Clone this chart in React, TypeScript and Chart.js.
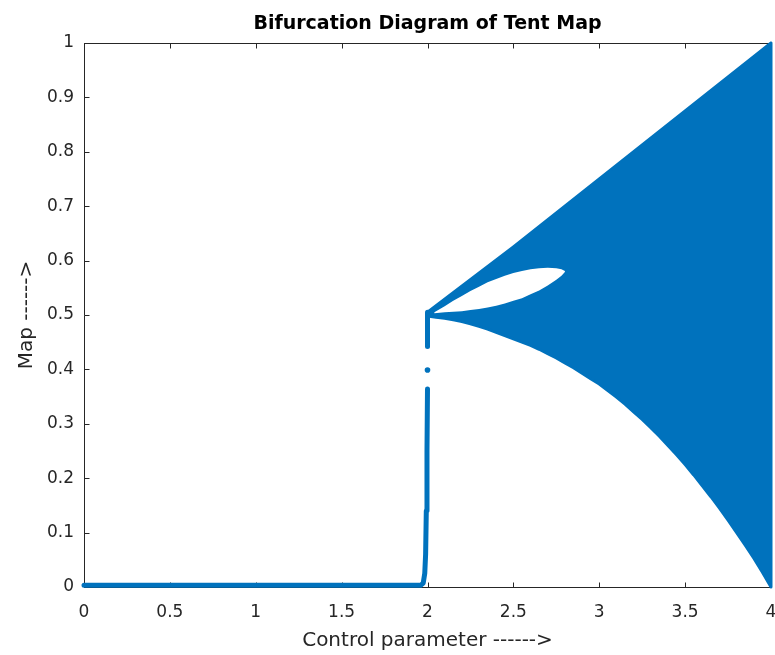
import React, { useEffect, useRef } from 'react';
import { Chart, registerables } from 'chart.js';

Chart.register(...registerables);

const BLUE = '#0072BD';
const AXIS = '#262626';
const FONT = "'DejaVu Sans', 'Liberation Sans', sans-serif";

// Tick values / labels
const xTickValues = [0, 0.5, 1, 1.5, 2, 2.5, 3, 3.5, 4];
const xTickLabels = ['0', '0.5', '1', '1.5', '2', '2.5', '3', '3.5', '4'];
const yTickValues = [0, 0.1, 0.2, 0.3, 0.4, 0.5, 0.6, 0.7, 0.8, 0.9, 1];
const yTickLabels = ['0', '0.1', '0.2', '0.3', '0.4', '0.5', '0.6', '0.7', '0.8', '0.9', '1'];

// Fixed-point branch (control parameter below 2)
const branchX = [0, 1.5, 1.96, 1.975, 1.984, 1.989, 1.993, 1.997, 2.0];
const branchY = [0.003, 0.003, 0.003, 0.007, 0.025, 0.06, 0.14, 0.25, 0.364];
const stubX = [2.0, 2.0];
const stubY = [0.442, 0.505];
const dotX = [2.0];
const dotY = [0.399];

// Chaotic band boundaries (control parameter 2..4)
const upperX = [2.0, 2.5, 3.0, 3.5, 4.0];
const upperY = [0.505, 0.625, 0.75, 0.875, 1.0];
const lowerX = [
  2.0, 2.05, 2.1, 2.15, 2.2, 2.25, 2.3, 2.35, 2.4, 2.45, 2.5, 2.55, 2.6, 2.65, 2.7, 2.75, 2.8, 2.85, 2.9, 2.95,
  3.0, 3.05, 3.1, 3.15, 3.2, 3.25, 3.3, 3.35, 3.4, 3.45, 3.5, 3.55, 3.6, 3.65, 3.7, 3.75, 3.8, 3.85, 3.9, 3.95, 4.0,
];
const lowerY = [
  0.498, 0.496, 0.494, 0.491, 0.488, 0.484, 0.479, 0.474, 0.468, 0.462, 0.456, 0.45, 0.444, 0.437, 0.429, 0.421,
  0.412, 0.403, 0.393, 0.383, 0.373, 0.361, 0.349, 0.336, 0.322, 0.308, 0.293, 0.277, 0.26, 0.243, 0.225, 0.206,
  0.186, 0.166, 0.145, 0.123, 0.1, 0.077, 0.053, 0.027, 0.0,
];

// Empty "eye" inside the band
const eyeTopX = [2.04, 2.1, 2.15, 2.2, 2.25, 2.3, 2.35, 2.4, 2.45, 2.5, 2.55, 2.6, 2.65, 2.7, 2.75, 2.78, 2.8];
const eyeTopY = [0.505, 0.516, 0.526, 0.535, 0.544, 0.552, 0.56, 0.566, 0.572, 0.577, 0.581, 0.584, 0.586, 0.587, 0.586, 0.584, 0.581];
const eyeBottomX = [2.04, 2.1, 2.15, 2.2, 2.25, 2.3, 2.35, 2.4, 2.45, 2.5, 2.55, 2.6, 2.65, 2.7, 2.75, 2.78, 2.8];
const eyeBottomY = [0.503, 0.505, 0.506, 0.507, 0.509, 0.511, 0.514, 0.517, 0.521, 0.526, 0.531, 0.538, 0.545, 0.554, 0.565, 0.572, 0.579];

const zip = (xs: number[], ys: number[]) => xs.map((x, i) => ({ x, y: ys[i] }));

const boxPlugin = {
  id: 'boxTicks',
  beforeDatasetsDraw(chart: any) {
    const { ctx, chartArea, scales } = chart;
    const { left, right, top, bottom } = chartArea;
    const xs = scales.x;
    const ys = scales.y;
    const T = 5;
    ctx.save();
    ctx.strokeStyle = AXIS;
    ctx.lineWidth = 1;
    ctx.beginPath();
    const tY = Math.round(top) + 0.5;
    const rX = Math.round(right) + 0.5;
    const bY = Math.round(bottom) + 0.5;
    const lX = Math.round(left) + 0.5;
    ctx.moveTo(lX, tY);
    ctx.lineTo(rX, tY);
    ctx.lineTo(rX, bY);
    xTickValues.forEach((v) => {
      const px = Math.round(xs.getPixelForValue(v)) + 0.5;
      ctx.moveTo(px, bY);
      ctx.lineTo(px, bY - T);
      ctx.moveTo(px, tY);
      ctx.lineTo(px, tY + T);
    });
    yTickValues.forEach((v) => {
      const py = Math.round(ys.getPixelForValue(v)) + 0.5;
      ctx.moveTo(lX, py);
      ctx.lineTo(lX + T, py);
      ctx.moveTo(rX, py);
      ctx.lineTo(rX - T, py);
    });
    ctx.stroke();
    ctx.restore();
  },
};

export default function App() {
  const ref = useRef<HTMLCanvasElement>(null);
  useEffect(() => {
    document.body.style.margin = '0';
    const mainPoly = [...zip(upperX, upperY), ...zip(lowerX, lowerY).reverse()];
    const eyePoly = [...zip(eyeBottomX, eyeBottomY), ...zip(eyeTopX, eyeTopY).reverse()];
    const chart = new Chart(ref.current!, {
      type: 'line',
      data: {
        datasets: [
          {
            data: zip(dotX, dotY),
            showLine: false,
            pointRadius: 2.8,
            pointBackgroundColor: BLUE,
            pointBorderWidth: 0,
            clip: false,
          } as any,
          {
            data: zip(stubX, stubY),
            borderColor: BLUE,
            borderWidth: 5,
            borderCapStyle: 'round',
            pointRadius: 0,
            fill: false,
            clip: false,
          },
          {
            data: zip(branchX, branchY),
            borderColor: BLUE,
            borderWidth: 5,
            borderCapStyle: 'round',
            borderJoinStyle: 'round',
            pointRadius: 0,
            fill: false,
            clip: false,
          },
          {
            data: eyePoly,
            borderWidth: 0,
            borderColor: 'rgba(0,0,0,0)',
            backgroundColor: '#ffffff',
            pointRadius: 0,
            fill: 'shape',
          },
          {
            data: mainPoly,
            borderColor: BLUE,
            borderWidth: 3,
            borderJoinStyle: 'round',
            backgroundColor: BLUE,
            pointRadius: 0,
            fill: 'shape',
            clip: false,
          },
        ],
      },
      options: {
        responsive: false,
        animation: false,
        devicePixelRatio: 1,
        layout: { padding: { left: 0, right: 3, top: 0, bottom: 0 } },
        plugins: {
          legend: { display: false },
          tooltip: { enabled: false },
          title: {
            display: true,
            fullSize: false,
            text: 'Bifurcation Diagram of Tent Map',
            color: '#000000',
            font: { family: FONT, size: 19, weight: 'bold', lineHeight: 1.2 },
            padding: { top: 13, bottom: 7.2 },
          },
        },
        scales: {
          x: {
            type: 'linear',
            min: 0,
            max: 4,
            afterBuildTicks: (s: any) => {
              s.ticks = xTickValues.map((v) => ({ value: v }));
            },
            afterFit: (s: any) => {
              s.height = 68;
              s.paddingLeft = 0;
              s.paddingRight = 0;
            },
            grid: { display: false, drawTicks: false },
            border: { display: true, color: AXIS, width: 1 },
            ticks: {
              color: AXIS,
              font: { family: FONT, size: 17 },
              padding: 15,
              maxRotation: 0,
              autoSkip: false,
              callback: (v: any) => xTickLabels[xTickValues.indexOf(Number(v))],
            },
            title: {
              display: true,
              text: 'Control parameter ------>',
              color: AXIS,
              font: { family: FONT, size: 20 },
              padding: { top: 0, bottom: 2 },
            },
          },
          y: {
            type: 'linear',
            min: 0,
            max: 1,
            afterBuildTicks: (s: any) => {
              s.ticks = yTickValues.map((v) => ({ value: v }));
            },
            afterFit: (s: any) => {
              s.width = 84;
              s.paddingTop = 0;
              s.paddingBottom = 0;
            },
            grid: { display: false, drawTicks: false },
            border: { display: true, color: AXIS, width: 1 },
            ticks: {
              color: AXIS,
              font: { family: FONT, size: 17 },
              padding: 10,
              autoSkip: false,
              callback: (v: any) => yTickLabels[yTickValues.indexOf(Number(v))],
            },
            title: {
              display: true,
              text: 'Map ------>',
              color: AXIS,
              font: { family: FONT, size: 20 },
              padding: { top: 15, bottom: 0 },
            },
          },
        },
      },
      plugins: [boxPlugin],
    } as any);
    return () => chart.destroy();
  }, []);
  return (
    <div style={{ width: 775, height: 655 }}>
      <canvas ref={ref} width={775} height={655} style={{ display: 'block', width: 775, height: 655 }} />
    </div>
  );
}
